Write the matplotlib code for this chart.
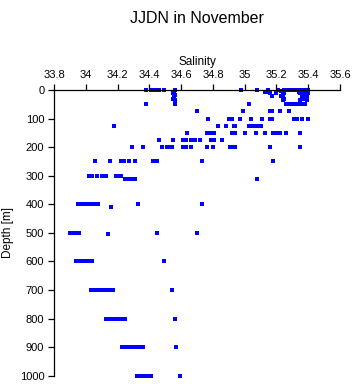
import numpy as np
import matplotlib
matplotlib.use('Agg')
import matplotlib.pyplot as plt

plt.rcParams['font.family'] = ['Liberation Sans', 'DejaVu Sans']

# Salinity readings, grouped by sampling depth (m)
sal_0 = [34.38, 34.41, 34.43, 34.45, 34.46, 34.49, 34.56, 34.98, 35.08, 35.15,
         35.21, 35.25, 35.26, 35.27, 35.28, 35.29, 35.30, 35.31, 35.32, 35.33,
         35.34, 35.35, 35.36, 35.37, 35.38, 35.39, 35.40]

# shallow casts between 0 and 40 m
shallow_sal = [34.555, 34.55, 34.56, 34.555, 34.55, 34.56, 35.13, 35.15, 35.16, 35.17,
               35.20, 35.23, 35.24, 35.25, 35.23, 35.24, 35.25, 35.24, 35.34, 35.35,
               35.36, 35.37, 35.38, 35.39, 35.40, 35.36, 35.37, 35.38, 35.39, 35.36,
               35.37, 35.38, 35.35, 35.39]
shallow_dep = [6, 12, 18, 24, 30, 35, 8, 6, 12, 22,
               10, 5, 8, 12, 20, 25, 30, 35, 8, 10,
               12, 10, 8, 12, 10, 20, 22, 20, 25, 30,
               32, 30, 35, 35]

sal_50 = [34.38, 34.56, 35.025, 35.26, 35.27, 35.28, 35.29, 35.31, 35.32, 35.33,
          35.34, 35.35, 35.36, 35.37, 35.38]
sal_75 = [34.70, 34.99, 35.16, 35.17, 35.22, 35.28]
sal_100 = [34.77, 34.90, 34.91, 34.92, 34.97, 35.04, 35.11, 35.16, 35.17, 35.31,
           35.32, 35.33, 35.36, 35.40]
sal_125 = [34.18, 34.83, 34.88, 34.93, 34.94, 35.03, 35.05, 35.07, 35.09, 35.10]
sal_150 = [34.64, 34.76, 34.79, 34.81, 34.92, 34.94, 35.00, 35.07, 35.13, 35.18,
           35.20, 35.22, 35.26, 35.35]
sal_175 = [34.46, 34.55, 34.61, 34.63, 34.66, 34.69, 34.72, 34.79, 34.81, 34.86]
sal_200 = [34.29, 34.36, 34.48, 34.51, 34.52, 34.53, 34.54, 34.61, 34.63, 34.66,
           34.76, 34.80, 34.91, 34.92, 34.94, 35.16, 35.35]
sal_250 = [34.06, 34.15, 34.22, 34.24, 34.27, 34.31, 34.42, 34.43, 34.44, 34.45,
           34.73, 35.18]
sal_300 = [34.02, 34.03, 34.04, 34.07, 34.10, 34.13, 34.19, 34.20, 34.22]
sal_310 = [34.25, 34.27, 34.28, 34.30, 34.31, 35.08]
sal_400 = [33.95, 33.96, 33.97, 33.98, 33.99, 34.00, 34.01, 34.02, 34.03, 34.04,
           34.05, 34.08, 34.33, 34.73]
sal_408 = [34.16]
sal_500 = [33.90, 33.91, 33.92, 33.93, 33.94, 33.95, 33.96, 34.45, 34.70]
sal_505 = [34.14]
sal_600 = [33.94, 33.95, 33.96, 33.97, 33.98, 33.99, 34.00, 34.02, 34.03, 34.04, 34.49]
sal_700 = [34.03, 34.04, 34.05, 34.06, 34.07, 34.08, 34.09, 34.10, 34.11, 34.12,
           34.14, 34.15, 34.16, 34.17, 34.54]
sal_800 = [34.13, 34.14, 34.15, 34.16, 34.17, 34.18, 34.19, 34.20, 34.21, 34.22,
           34.245, 34.56]
sal_900 = [34.23, 34.24, 34.25, 34.26, 34.27, 34.28, 34.29, 34.30, 34.31, 34.33,
           34.34, 34.35, 34.36, 34.57]
sal_1000 = [34.32, 34.33, 34.34, 34.35, 34.36, 34.37, 34.38, 34.39, 34.40, 34.41, 34.59]

levels = [(0, sal_0), (50, sal_50), (75, sal_75), (100, sal_100), (125, sal_125),
          (150, sal_150), (175, sal_175), (200, sal_200), (250, sal_250),
          (300, sal_300), (310, sal_310), (400, sal_400), (408, sal_408),
          (500, sal_500), (505, sal_505), (600, sal_600), (700, sal_700),
          (800, sal_800), (900, sal_900), (1000, sal_1000)]

x = list(shallow_sal)
y = list(shallow_dep)
for d, s in levels:
    x += s
    y += [d] * len(s)

fig = plt.figure(figsize=(3.53, 3.84), dpi=100)
ax = fig.add_axes([54 / 353, 1 - 375.7 / 384, (340 - 54) / 353, (375.7 - 90) / 384])

ax.scatter(x, y, s=6, marker='s', color='#0000ff', linewidths=0, clip_on=False)

ax.set_xlim(33.8, 35.6)
ax.set_ylim(1000, 0)
ax.set_xticks(np.arange(33.8, 35.61, 0.2))
ax.set_xticklabels(['33.8', '34', '34.2', '34.4', '34.6', '34.8', '35', '35.2', '35.4', '35.6'])
ax.set_yticks(np.arange(0, 1001, 100))
ax.xaxis.tick_top()
ax.xaxis.set_label_position('top')
ax.spines['right'].set_visible(False)
ax.spines['bottom'].set_visible(False)
for sp in ('top', 'left'):
    ax.spines[sp].set_linewidth(0.9)
ax.tick_params(direction='out', length=4, width=0.9, labelsize=8, pad=3)
ax.set_xlabel('Salinity', fontsize=8.5, labelpad=4)
ax.set_ylabel('Depth [m]', fontsize=8.5, labelpad=4)

fig.text(197 / 353, 0.953, 'JJDN in November', ha='center', va='center', fontsize=11.5)

fig.savefig('out.png', dpi=100)
